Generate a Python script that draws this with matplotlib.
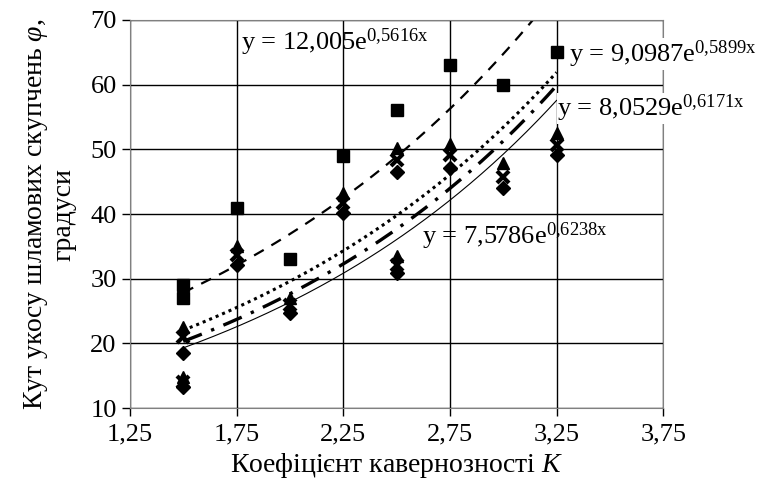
import matplotlib
matplotlib.use("Agg")
import matplotlib.pyplot as plt
import numpy as np

plt.rcParams['font.family'] = ['Liberation Serif', 'DejaVu Serif']
plt.rcParams['mathtext.fontset'] = 'custom'
plt.rcParams['mathtext.rm'] = 'Liberation Serif'
plt.rcParams['mathtext.it'] = 'Liberation Serif:italic'

# дані (кут укосу від коефіцієнта кавернозності)
x_sq = [1.5, 1.5, 1.75, 2.0, 2.25, 2.5, 2.75, 3.0, 3.25]
y_sq = [29, 27, 41, 33, 49, 56, 63, 60, 65]

x_pts = [1.5, 1.5, 1.75, 2.0, 2.25, 2.5, 2.5, 2.75, 3.0, 3.25]
y_tri = [22.5, 14.8, 35, 27, 43.2, 50.2, 33.5, 50.8, 47.9, 52.5]
y_x = [21, 14, 33.7, 26, 41.7, 48.4, 32.1, 49.1, 45.7, 50.7]
y_dia = [18.5, 13.3, 32.2, 24.7, 40.2, 46.5, 30.9, 47.1, 44, 49.1]

# коефіцієнти трендів y = a*e^(b*x)
fit_a = [12.005, 9.0987, 8.0529, 7.5786]
fit_b = [0.5616, 0.5899, 0.6171, 0.6238]
fit_lbl = ['12,005', '9,0987', '8,0529', '7,5786']
fit_exp = ['0{,}5616x', '0{,}5899x', '0{,}6171x', '0{,}6238x']

xticks = [1.25, 1.75, 2.25, 2.75, 3.25, 3.75]
xtick_labels = ['1,25', '1,75', '2,25', '2,75', '3,25', '3,75']
yticks = [10, 20, 30, 40, 50, 60, 70]

fig = plt.figure(figsize=(7.73, 4.96), dpi=100)
ax = fig.add_axes([0.168, 0.177, 0.690, 0.783])

ax.plot(x_sq, y_sq, 's', color='black', ms=8, zorder=5)
ax.plot(x_pts, y_tri, '^', color='black', ms=9, zorder=5)
ax.plot(x_pts, y_x, 'x', color='black', ms=8, mew=3, zorder=5)
ax.plot(x_pts, y_dia, 'D', color='black', ms=7, zorder=5)

xx = np.linspace(1.5, 3.25, 200)
styles = [dict(ls=(0, (5, 4)), lw=1.6),
          dict(ls=(0, (1, 1.3)), lw=2.2),
          dict(ls=(0, (6, 3, 1, 3)), lw=2.4),
          dict(ls='-', lw=0.8)]
for a, b, st in zip(fit_a, fit_b, styles):
    ax.plot(xx, a * np.exp(b * xx), color='black', **st)

# підписи рівнянь
pos = [(1.77, 66.5), (3.31, 64.7), (3.25, 56.3), (2.62, 36.5)]
for (tx, ty), a, e in zip(pos, fit_lbl, fit_exp):
    ax.text(tx, ty, 'y = ' + a + r'e$^{\mathregular{' + e + r'}}$',
            fontsize=19, va='center', ha='left', color='black',
            bbox=dict(facecolor='white', edgecolor='none', pad=0) if tx > 3.2 else None)

ax.set_xlim(1.25, 3.75)
ax.set_ylim(10, 70)
ax.set_xticks(xticks)
ax.set_xticklabels(xtick_labels)
ax.set_yticks(yticks)
ax.tick_params(labelsize=19, direction='out', length=6, width=1)
ax.tick_params(axis='x', pad=5)
ax.grid(True, color='black', lw=1)
ax.set_axisbelow(True)
for s in ax.spines.values():
    s.set_color('#808080')

ax.set_xlabel(r'Коефіцієнт кавернозності $\mathit{K}$', fontsize=20)
ax.set_ylabel('Кут укосу шламових скупчень $\\mathit{\\varphi}$,\nградуси', fontsize=20,
              linespacing=1.1, labelpad=10)

fig.savefig('out.png', dpi=100)
